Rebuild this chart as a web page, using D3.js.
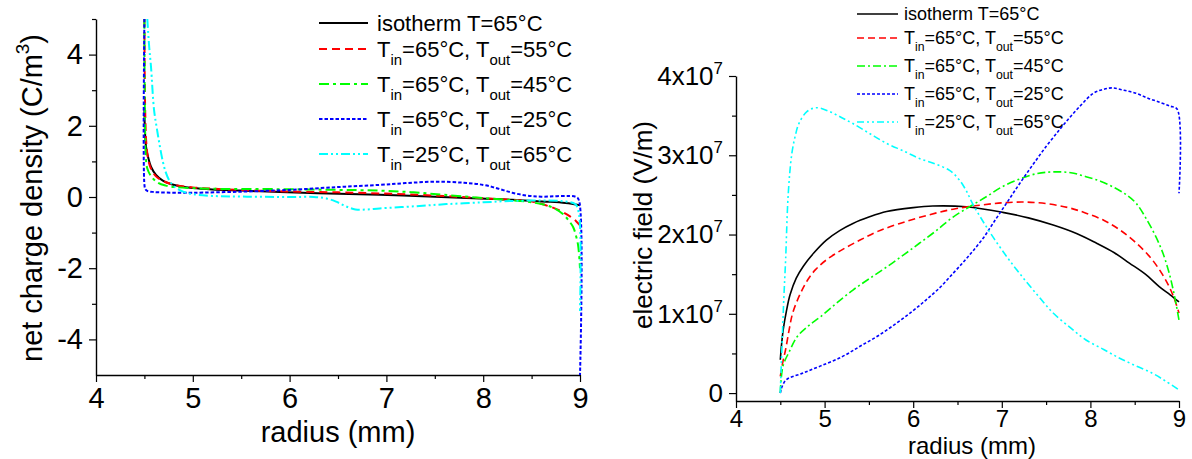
<!DOCTYPE html>
<html><head><meta charset="utf-8">
<script src="https://cdn.jsdelivr.net/npm/d3@7"></script>
<style>
body{margin:0;background:#fff}
svg{display:block;background:#fff}
text{font-family:"Liberation Sans",Arial,Helvetica,sans-serif;fill:#000}
</style>
</head><body>
<svg id="chart" width="1192" height="459"></svg>
<script>
// ---------------- data ----------------
const radiusTicks = [4, 5, 6, 7, 8, 9];
const radiusMinorTicks = [4.5, 5.5, 6.5, 7.5, 8.5];
const chargeTicks = [-4, -2, 0, 2, 4];
const chargeMinorTicks = [-3, -1, 1, 3, 5];
const fieldTicks = [0, 1e7, 2e7, 3e7, 4e7];
const fieldMinorTicks = [0.5e7, 1.5e7, 2.5e7, 3.5e7];

const seriesLabels = [
  "isotherm T=65°C",
  "T_{in}=65°C, T_{out}=55°C",
  "T_{in}=65°C, T_{out}=45°C",
  "T_{in}=65°C, T_{out}=25°C",
  "T_{in}=25°C, T_{out}=65°C"
];

// net charge density (C/m^3) vs radius (mm)
const chargeIsotherm = [[4.5,2.5],[4.505,1.9],[4.517,1.41],[4.54,1.1],[4.568,0.85],[4.62,0.62],[4.69,0.46],[4.78,0.36],[4.87,0.3],[5.0,0.25],[5.2,0.21],[5.5,0.18],[5.9,0.14],[6.4,0.1],[6.93,0.06],[7.5,0.01],[7.96,-0.04],[8.3,-0.08],[8.65,-0.13],[8.85,-0.17],[9.0,-0.23]];
const chargeOut55 = [[4.5,5],[4.503,3.5],[4.51,2.2],[4.52,1.5],[4.54,1.05],[4.57,0.78],[4.62,0.58],[4.7,0.44],[4.8,0.35],[5.0,0.27],[5.3,0.22],[5.9,0.16],[6.5,0.13],[6.93,0.1],[7.5,0.04],[7.96,-0.03],[8.3,-0.08],[8.5,-0.13],[8.7,-0.28],[8.82,-0.42],[8.9,-0.55],[8.96,-0.68],[9.0,-0.8]];
const chargeOut45 = [[4.5,5],[4.503,3.0],[4.508,1.7],[4.515,1.1],[4.53,0.8],[4.57,0.58],[4.64,0.4],[4.72,0.32],[4.81,0.28],[5.0,0.25],[5.21,0.23],[5.9,0.22],[6.5,0.2],[6.93,0.18],[7.28,0.13],[7.6,0.06],[7.96,-0.02],[8.3,-0.09],[8.5,-0.15],[8.65,-0.23],[8.75,-0.34],[8.82,-0.47],[8.88,-0.65],[8.93,-0.85],[8.96,-1.1],[8.98,-1.35],[8.99,-1.6],[9.0,-2.0]];
const chargeOut25 = [[4.5,5],[4.5,0.35],[4.51,0.22],[4.53,0.17],[4.6,0.14],[4.8,0.12],[5.0,0.12],[5.5,0.15],[6.0,0.2],[6.5,0.28],[6.93,0.34],[7.2,0.39],[7.5,0.43],[7.8,0.4],[8.0,0.34],[8.15,0.24],[8.3,0.12],[8.45,0.04],[8.6,0.01],[8.96,0.0],[8.99,-0.1],[9.0,-5]];
const chargeIn25Out65 = [[4.53,5],[4.55,4.2],[4.568,3.66],[4.6,2.44],[4.63,1.9],[4.654,1.51],[4.69,1.0],[4.72,0.7],[4.76,0.45],[4.81,0.29],[4.9,0.15],[5.0,0.08],[5.2,0.03],[5.56,0.01],[6.0,0.0],[6.25,0.0],[6.38,-0.04],[6.48,-0.13],[6.58,-0.26],[6.68,-0.35],[6.8,-0.35],[6.93,-0.32],[7.3,-0.26],[7.62,-0.2],[8.0,-0.15],[8.3,-0.11],[8.6,-0.1],[8.82,-0.12],[8.95,-0.2],[8.99,-0.5],[9.0,-3.2]];

// electric field (V/m) vs radius (mm)
const fieldIsotherm = [[4.5,0.42e7],[4.515,0.62e7],[4.533,0.8e7],[4.57,1.04e7],[4.61,1.24e7],[4.68,1.45e7],[4.76,1.6e7],[4.88,1.77e7],[5.02,1.93e7],[5.17,2.05e7],[5.32,2.14e7],[5.5,2.22e7],[5.7,2.29e7],[6.0,2.34e7],[6.22,2.36e7],[6.6,2.35e7],[7.01,2.28e7],[7.3,2.21e7],[7.58,2.12e7],[7.85,2.01e7],[8.07,1.89e7],[8.27,1.77e7],[8.44,1.64e7],[8.62,1.5e7],[8.78,1.34e7],[8.9,1.24e7],[9.0,1.15e7]];
const fieldOut55 = [[4.5,0.21e7],[4.53,0.4e7],[4.56,0.55e7],[4.6,0.8e7],[4.64,1.01e7],[4.72,1.24e7],[4.81,1.43e7],[4.9,1.56e7],[5.02,1.68e7],[5.2,1.81e7],[5.4,1.93e7],[5.6,2.04e7],[5.85,2.14e7],[6.15,2.24e7],[6.45,2.32e7],[6.75,2.37e7],[7.01,2.4e7],[7.25,2.41e7],[7.5,2.39e7],[7.75,2.34e7],[7.95,2.27e7],[8.15,2.18e7],[8.33,2.06e7],[8.5,1.91e7],[8.67,1.72e7],[8.8,1.52e7],[8.89,1.34e7],[8.95,1.18e7],[9.0,1.01e7]];
const fieldOut45 = [[4.5,0.0],[4.53,0.34e7],[4.6,0.52e7],[4.69,0.71e7],[4.82,0.85e7],[4.95,0.96e7],[5.13,1.13e7],[5.32,1.3e7],[5.5,1.44e7],[5.7,1.59e7],[5.9,1.75e7],[6.07,1.89e7],[6.25,2.04e7],[6.45,2.22e7],[6.65,2.36e7],[6.83,2.48e7],[7.0,2.6e7],[7.2,2.7e7],[7.4,2.77e7],[7.58,2.79e7],[7.78,2.78e7],[7.95,2.73e7],[8.12,2.67e7],[8.29,2.58e7],[8.42,2.49e7],[8.52,2.39e7],[8.63,2.2e7],[8.74,1.97e7],[8.82,1.76e7],[8.89,1.51e7],[8.95,1.22e7],[9.0,0.92e7]];
const fieldOut25 = [[4.5,0.0],[4.52,0.08e7],[4.57,0.17e7],[4.75,0.25e7],[4.95,0.34e7],[5.2,0.46e7],[5.4,0.59e7],[5.6,0.72e7],[5.81,0.88e7],[6.0,1.04e7],[6.15,1.18e7],[6.3,1.33e7],[6.45,1.51e7],[6.58,1.67e7],[6.68,1.8e7],[6.8,1.97e7],[6.9,2.14e7],[7.05,2.39e7],[7.2,2.64e7],[7.35,2.88e7],[7.5,3.11e7],[7.65,3.32e7],[7.77,3.48e7],[7.9,3.64e7],[8.03,3.78e7],[8.14,3.83e7],[8.25,3.85e7],[8.38,3.82e7],[8.52,3.78e7],[8.65,3.72e7],[8.78,3.67e7],[8.9,3.62e7],[8.98,3.58e7],[9.0,2.52e7]];
const fieldIn25Out65 = [[4.5,0.0],[4.52,0.63e7],[4.54,1.2e7],[4.56,1.68e7],[4.59,2.52e7],[4.63,3.02e7],[4.67,3.25e7],[4.71,3.4e7],[4.8,3.55e7],[4.91,3.6e7],[5.06,3.55e7],[5.2,3.47e7],[5.32,3.4e7],[5.5,3.28e7],[5.7,3.15e7],[5.9,3.05e7],[6.07,2.96e7],[6.25,2.89e7],[6.41,2.81e7],[6.52,2.69e7],[6.6,2.55e7],[6.67,2.39e7],[6.78,2.18e7],[6.9,1.97e7],[7.05,1.73e7],[7.2,1.51e7],[7.4,1.24e7],[7.58,1.01e7],[7.78,0.82e7],[7.95,0.67e7],[8.15,0.55e7],[8.33,0.44e7],[8.5,0.35e7],[8.7,0.25e7],[8.85,0.15e7],[9.0,0.04e7]];

const chargeSeries = [chargeIsotherm, chargeOut55, chargeOut45, chargeOut25, chargeIn25Out65];
const fieldSeries = [fieldIsotherm, fieldOut55, fieldOut45, fieldOut25, fieldIn25Out65];

// ---------------- styles ----------------
const colors = ["#000000", "#ff0000", "#00ff00", "#0000ff", "#00ffff"];
const dashLeft = [null, "8,5", "10,4,3,4", "3.5,2", "9,3,2,3,2,3"];
const dashRight = [null, "7,4", "8,3,2,3", "3,2", "7,3,2,3,2,3"];

const svg = d3.select("#chart");
svg.append("rect").attr("width",1192).attr("height",459).attr("fill","#fff");

function addRichText(sel, str, fs, scriptScale, shift) {
  // parses _{..} as subscript and ^{..} as superscript
  const re = /([_^])\{([^}]*)\}/g;
  let last = 0, m, pending = 0;
  const push = (txt, size, dy) => {
    const t = sel.append("tspan").attr("font-size", size).text(txt);
    if (dy) t.attr("dy", dy);
  };
  while ((m = re.exec(str)) !== null) {
    if (m.index > last) { push(str.slice(last, m.index), fs, pending ? -pending : 0); pending = 0; }
    const off = m[1] === "_" ? shift : -shift;
    push(m[2], fs * scriptScale, off - pending);
    pending = off;
    last = re.lastIndex;
  }
  if (last < str.length) push(str.slice(last), fs, pending ? -pending : 0);
}

function drawPanel(cfg) {
  const g = svg.append("g");
  const x = d3.scaleLinear().domain([4, 9]).range(cfg.xRange);
  const y = d3.scaleLinear().domain(cfg.yDomain).range(cfg.yRange);

  const clipId = "clip" + cfg.id;
  g.append("clipPath").attr("id", clipId).append("rect")
    .attr("x", cfg.xRange[0] - 6).attr("y", cfg.yRange[1] - 1)
    .attr("width", cfg.xRange[1] - cfg.xRange[0] + 12)
    .attr("height", cfg.yRange[0] - cfg.yRange[1] + 1);

  // x axis
  const xa = g.append("g").attr("transform", `translate(0,${cfg.yRange[0]})`)
    .call(d3.axisBottom(x).tickValues(radiusTicks).tickSize(7).tickSizeOuter(0).tickPadding(cfg.xPad).tickFormat(d => String(d)));
  g.append("g").attr("transform", `translate(0,${cfg.yRange[0]})`)
    .call(d3.axisBottom(x).tickValues(radiusMinorTicks).tickSize(4).tickFormat(""))
    .select(".domain").remove();
  xa.attr("font-family", null).attr("font-size", null);
  xa.selectAll("text").attr("font-size", cfg.xTickFs || cfg.tickFs);

  // y axis
  const ya = g.append("g").attr("transform", `translate(${cfg.xRange[0]},0)`)
    .call(d3.axisLeft(y).tickValues(cfg.yTicks).tickSize(7).tickSizeOuter(0).tickPadding(cfg.yPad).tickFormat(d => String(d)));
  g.append("g").attr("transform", `translate(${cfg.xRange[0]},0)`)
    .call(d3.axisLeft(y).tickValues(cfg.yMinor).tickSize(4).tickFormat(""))
    .select(".domain").remove();
  ya.attr("font-family", null).attr("font-size", null);
  ya.selectAll("text").attr("font-size", cfg.tickFs);
  if (cfg.yRich) {
    ya.selectAll("text").each(function(d) {
      const t = d3.select(this).text(null);
      addRichText(t, cfg.yRich(d), cfg.tickFs, 0.65, cfg.tickFs * 0.42);
    });
  }
  g.selectAll(".domain").attr("stroke", "#000").attr("stroke-width", 1.4);
  g.selectAll(".tick line").attr("stroke", "#000").attr("stroke-width", 1.2);

  // lines
  const line = d3.line().x(d => x(d[0])).y(d => y(d[1])).curve(d3.curveCatmullRom.alpha(0.5));
  const lg = g.append("g").attr("clip-path", `url(#${clipId})`);
  cfg.series.forEach((s, i) => {
    lg.append("path").datum(s).attr("d", line)
      .attr("fill", "none").attr("stroke", colors[i])
      .attr("stroke-width", cfg.lw)
      .attr("stroke-dasharray", cfg.dash[i])
      .attr("stroke-linejoin", "round");
  });

  // axis titles
  const xt = g.append("text").attr("x", cfg.xTitle[0]).attr("y", cfg.xTitle[1])
    .attr("text-anchor", "middle");
  addRichText(xt, "radius (mm)", cfg.xTitleFs || cfg.titleFs, 0.65, 0);
  const yt = g.append("text")
    .attr("transform", `translate(${cfg.yTitle[0]},${cfg.yTitle[1]}) rotate(-90)`)
    .attr("text-anchor", "middle");
  addRichText(yt, cfg.yLabel, cfg.titleFs, 0.65, cfg.titleFs * 0.45);

  // legend
  seriesLabels.forEach((lab, i) => {
    const yy = i === 0 ? cfg.leg.y0 : cfg.leg.y1 + (i - 1) * cfg.leg.step;
    g.append("line").attr("x1", cfg.leg.x1).attr("x2", cfg.leg.x2)
      .attr("y1", yy).attr("y2", yy)
      .attr("stroke", colors[i]).attr("stroke-width", cfg.lw)
      .attr("stroke-dasharray", cfg.dash[i]);
    const t = g.append("text").attr("x", cfg.leg.tx).attr("y", yy + cfg.leg.fs * 0.36);
    addRichText(t, lab, cfg.leg.fs, 0.68, cfg.leg.fs * 0.38);
  });
}

drawPanel({
  id: "L",
  xRange: [96, 580], yDomain: [-5, 5], yRange: [375, 19],
  yTicks: chargeTicks, yMinor: chargeMinorTicks,
  xPad: 5, yPad: 6, tickFs: 29, titleFs: 29, lw: 2,
  dash: dashLeft, series: chargeSeries,
  xTitle: [338, 442], yTitle: [42, 198],
  yLabel: "net charge density (C/m^{3})",
  leg: {x1: 319, x2: 368, tx: 377, y0: 23, y1: 49, step: 35, fs: 22}
});

drawPanel({
  id: "R",
  xRange: [736, 1179], yDomain: [-0.1e7, 4e7], yRange: [401, 76],
  yTicks: fieldTicks, yMinor: fieldMinorTicks,
  xPad: 2, yPad: 6, tickFs: 26, xTickFs: 24, titleFs: 26, xTitleFs: 24, lw: 1.6,
  dash: dashRight, series: fieldSeries,
  yRich: d => d === 0 ? "0" : (d / 1e7) + "x10^{7}",
  xTitle: [972, 454], yTitle: [652, 225],
  yLabel: "electric field (V/m)",
  leg: {x1: 857, x2: 898, tx: 904, y0: 14, y1: 38, step: 28, fs: 18}
});
</script>
</body></html>
